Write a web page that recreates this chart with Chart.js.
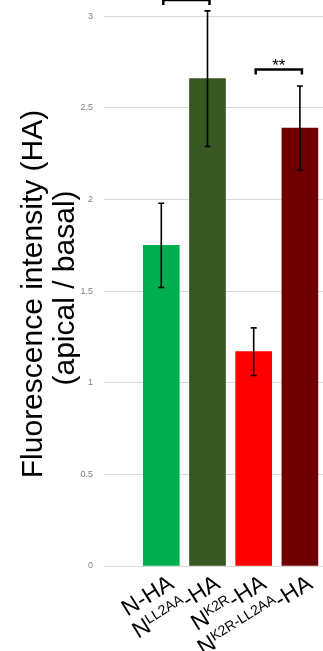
<!DOCTYPE html>
<html>
<head>
<meta charset="utf-8">
<script src="https://cdn.jsdelivr.net/npm/chart.js@4"></script>
<style>
  html, body { margin: 0; padding: 0; background: #ffffff; }
  canvas { display: block; }
</style>
</head>
<body>
<canvas id="c" width="323" height="651"></canvas>
<script>
// Construct labels: base name, superscript part, suffix
const categories = [
  { base: 'N-HA', sup: '', tail: '' },
  { base: 'N', sup: 'LL2AA', tail: '-HA' },
  { base: 'N', sup: 'K2R', tail: '-HA' },
  { base: 'N', sup: 'K2R-LL2AA', tail: '-HA' }
];
const ratios = [1.75, 2.66, 1.17, 2.39];
const errors = [0.23, 0.37, 0.13, 0.23];
const barColors = ['#00b050', '#385723', '#ff0000', '#700000'];
const yTicks = [0, 0.5, 1, 1.5, 2, 2.5, 3];
const titleLines = ['Fluorescence intensity (HA)', '(apical / basal)'];
// significance brackets between two bars at a given ratio level
const brackets = [
  { from: 0, to: 1, level: 3.09, label: '' },
  { from: 2, to: 3, level: 2.71, label: '**' }
];

const FONT = '"Liberation Sans", Arial, sans-serif';

const errorBars = {
  id: 'errorBars',
  afterDatasetsDraw(chart) {
    const ctx = chart.ctx;
    const y = chart.scales.y;
    const meta = chart.getDatasetMeta(0);
    ctx.save();
    ctx.strokeStyle = '#000';
    ctx.lineWidth = 1.6;
    meta.data.forEach((bar, i) => {
      const top = y.getPixelForValue(ratios[i] + errors[i]);
      const bot = y.getPixelForValue(ratios[i] - errors[i]);
      ctx.beginPath();
      ctx.moveTo(bar.x, top); ctx.lineTo(bar.x, bot);
      ctx.moveTo(bar.x - 3, top); ctx.lineTo(bar.x + 3, top);
      ctx.moveTo(bar.x - 3, bot); ctx.lineTo(bar.x + 3, bot);
      ctx.stroke();
    });
    ctx.restore();
  }
};

const sigBrackets = {
  id: 'sigBrackets',
  afterDatasetsDraw(chart) {
    const ctx = chart.ctx;
    const y = chart.scales.y;
    const meta = chart.getDatasetMeta(0);
    ctx.save();
    ctx.strokeStyle = '#000';
    ctx.fillStyle = '#000';
    ctx.lineWidth = 2.5;
    brackets.forEach(b => {
      const x1 = meta.data[b.from].x + 2;
      const x2 = meta.data[b.to].x + 2;
      const yy = y.getPixelForValue(b.level);
      ctx.beginPath();
      ctx.moveTo(x1, yy + 5); ctx.lineTo(x1, yy);
      ctx.lineTo(x2, yy); ctx.lineTo(x2, yy + 5);
      ctx.stroke();
      if (b.label) {
        ctx.font = '17px ' + FONT;
        ctx.textAlign = 'center';
        ctx.textBaseline = 'alphabetic';
        ctx.fillText(b.label, (x1 + x2) / 2, yy + 1);
      }
    });
    ctx.restore();
  }
};

const axisText = {
  id: 'axisText',
  afterDraw(chart) {
    const ctx = chart.ctx;
    const meta = chart.getDatasetMeta(0);
    const bottom = chart.chartArea.bottom;
    ctx.save();
    ctx.fillStyle = '#000';
    // rotated category labels with superscripts
    const mainFont = '23px ' + FONT;
    const supFont = '14px ' + FONT;
    categories.forEach((c, i) => {
      ctx.font = mainFont;
      const wb = ctx.measureText(c.base).width;
      const wt = ctx.measureText(c.tail).width;
      ctx.font = supFont;
      const ws = c.sup ? ctx.measureText(c.sup).width : 0;
      const total = wb + ws + wt;
      ctx.save();
      ctx.translate(meta.data[i].x + 14, bottom + 21);
      ctx.rotate(-32 * Math.PI / 180);
      ctx.textAlign = 'left';
      ctx.textBaseline = 'alphabetic';
      let x = -total;
      ctx.font = mainFont;
      ctx.fillText(c.base, x, 0); x += wb;
      if (c.sup) { ctx.font = supFont; ctx.fillText(c.sup, x, -7); x += ws; }
      if (c.tail) { ctx.font = mainFont; ctx.fillText(c.tail, x, 0); }
      ctx.restore();
    });
    // y-axis title, two centred lines
    ctx.font = '30px ' + FONT;
    ctx.textAlign = 'center';
    ctx.textBaseline = 'alphabetic';
    const centres = [{ x: 42, y: 294 }, { x: 74, y: 288 }];
    titleLines.forEach((t, k) => {
      ctx.save();
      ctx.translate(centres[k].x, centres[k].y);
      ctx.rotate(-Math.PI / 2);
      ctx.fillText(t, 0, 0);
      ctx.restore();
    });
    ctx.restore();
  }
};

new Chart(document.getElementById('c'), {
  type: 'bar',
  data: {
    datasets: [{
      data: ratios.map((v, i) => ({ x: i, y: v })),
      backgroundColor: barColors,
      borderWidth: 0,
      barThickness: 36
    }]
  },
  options: {
    responsive: false,
    animation: false,
    devicePixelRatio: 1,
    layout: { padding: { top: 16, bottom: 85, left: 0, right: 0 } },
    plugins: { legend: { display: false }, tooltip: { enabled: false } },
    scales: {
      x: {
        type: 'linear',
        display: false,
        offset: false,
        min: -1.24,
        max: 3.5
      },
      y: {
        min: 0,
        max: 3,
        afterFit(scale) { scale.width = 104; },
        afterBuildTicks(scale) { scale.ticks = yTicks.map(v => ({ value: v })); },
        border: { display: false },
        grid: { color: '#d9d9d9', lineWidth: 1, drawTicks: false },
        ticks: {
          padding: 11,
          color: '#7f7f7f',
          font: { family: FONT, size: 9 },
          callback: v => String(v)
        }
      }
    }
  },
  plugins: [errorBars, sigBrackets, axisText]
});
</script>
</body>
</html>
